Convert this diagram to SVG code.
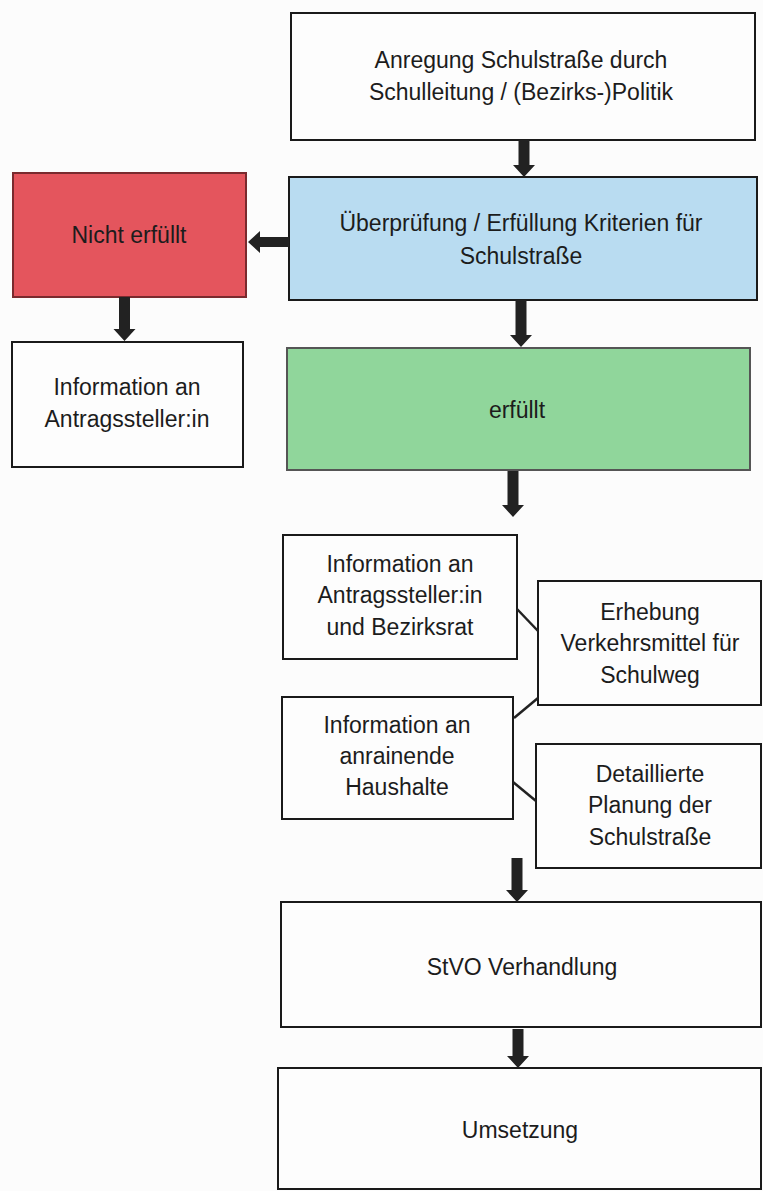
<svg xmlns="http://www.w3.org/2000/svg" width="763" height="1191" viewBox="0 0 763 1191">
<style>
.box{stroke:#1a1a1a;stroke-width:2;fill:#fdfdfd}
.t{font-family:"Liberation Sans",Arial,sans-serif;font-size:23px;fill:#1c1c1c;text-anchor:middle}
.arr{fill:#222}
.ln{stroke:#222;stroke-width:2.5;fill:none}
</style>
<rect width="763" height="1191" fill="#fcfcfc"/>
<g id="n-anregung"><rect class="box" x="291" y="13" width="464" height="127"/>
<text class="t" x="521" y="68">Anregung Schulstraße durch</text>
<text class="t" x="521" y="100">Schulleitung / (Bezirks-)Politik</text></g>
<g id="n-pruefung"><rect class="box" x="289" y="177" width="468" height="123" style="fill:#b9dcf1"/>
<text class="t" x="521" y="231">Überprüfung / Erfüllung Kriterien für</text>
<text class="t" x="521" y="264">Schulstraße</text></g>
<g id="n-nicht"><rect class="box" x="13" y="173" width="233" height="124" style="fill:#e4555d;stroke:#7a2a2e"/>
<text class="t" x="129" y="243">Nicht erfüllt</text></g>
<g id="n-info1"><rect class="box" x="12" y="342" width="231" height="125"/>
<text class="t" x="127" y="395">Information an</text>
<text class="t" x="127" y="427">Antragssteller:in</text></g>
<g id="n-erfuellt"><rect class="box" x="287" y="348" width="463" height="122" style="fill:#90d69b;stroke:#555"/>
<text class="t" x="517" y="418">erfüllt</text></g>
<g id="n-info2"><rect class="box" x="283" y="535" width="234" height="124"/>
<text class="t" x="400" y="572">Information an</text>
<text class="t" x="400" y="603">Antragssteller:in</text>
<text class="t" x="400" y="635">und Bezirksrat</text></g>
<g id="n-erhebung"><rect class="box" x="538" y="581" width="223" height="124"/>
<text class="t" x="650" y="620">Erhebung</text>
<text class="t" x="650" y="651">Verkehrsmittel für</text>
<text class="t" x="650" y="683">Schulweg</text></g>
<g id="n-info3"><rect class="box" x="282" y="697" width="231" height="122"/>
<text class="t" x="397" y="733">Information an</text>
<text class="t" x="397" y="764">anrainende</text>
<text class="t" x="397" y="795">Haushalte</text></g>
<g id="n-planung"><rect class="box" x="536" y="744" width="225" height="124"/>
<text class="t" x="650" y="782">Detaillierte</text>
<text class="t" x="650" y="813">Planung der</text>
<text class="t" x="650" y="845">Schulstraße</text></g>
<g id="n-stvo"><rect class="box" x="281" y="902" width="480" height="125"/>
<text class="t" x="522" y="975">StVO Verhandlung</text></g>
<g id="n-umsetzung"><rect class="box" x="278" y="1068" width="483" height="121"/>
<text class="t" x="520" y="1138">Umsetzung</text></g>
<g id="connectors">
<polygon class="arr" points="518.5,140 529.5,140 529.5,165 535,165 524,177 513,165 518.5,165"/>
<polygon class="arr" points="289,237 289,247 260,247 260,253 248,242 260,231 260,237"/>
<polygon class="arr" points="119,297 130,297 130,329 135.5,329 124.5,341 113.5,329 119,329"/>
<polygon class="arr" points="515.5,300 526.5,300 526.5,335 532,335 521,347 510,335 515.5,335"/>
<polygon class="arr" points="507.5,471 518.5,471 518.5,505 524,505 513,517 502,505 507.5,505"/>
<polygon class="arr" points="511.5,858 522.5,858 522.5,890 528,890 517,902 506,890 511.5,890"/>
<polygon class="arr" points="512.5,1029 523.5,1029 523.5,1056 529,1056 518,1068 507,1056 512.5,1056"/>
<line class="ln" x1="517" y1="609" x2="538" y2="631"/>
<line class="ln" x1="514" y1="718" x2="538" y2="698"/>
<line class="ln" x1="513" y1="782" x2="536" y2="801"/>
</g>
</svg>
